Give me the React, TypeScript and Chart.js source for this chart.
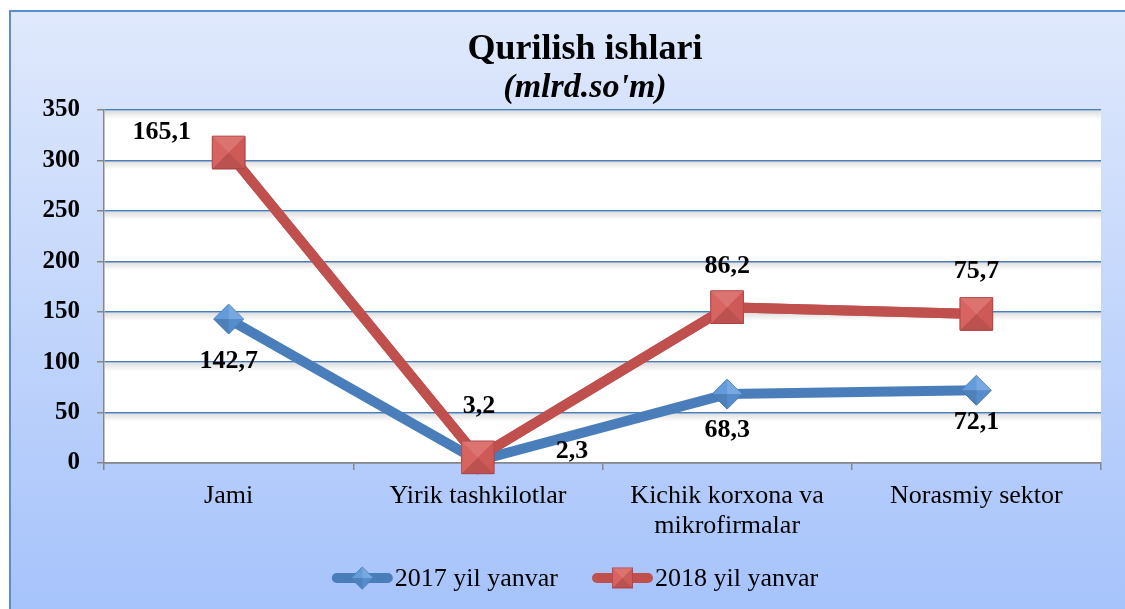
import React, { useEffect, useRef } from 'react';
import { Chart, registerables } from 'chart.js';

Chart.register(...registerables);

const categories: (string | string[])[] = ['Jami', 'Yirik tashkilotlar', ['Kichik korxona va', 'mikrofirmalar'], 'Norasmiy sektor'];
const series2017 = [142.7, 2.3, 68.3, 72.1];
const series2018 = [165.1, 3.2, 86.2, 75.7];
const seriesNames = ['2017 yil yanvar', '2018 yil yanvar'];
const titleText = 'Qurilish ishlari';
const subtitleText = "(mlrd.so'm)";
const yMin = 0;
const yMax = 350;
const yStep = 50;

// label offsets (style), relative to each point
const labelOffsets = [
  [[0, 42], [94, -9], [0, 36], [0, 32]],
  [[-67, -20], [1, -51], [0, -41], [0, -43]],
];

const FONT = "'Liberation Serif', 'Times New Roman', serif";
const BLUE = '#4a7ebb';
const BLUE_FILL = '#5b95d8';
const RED = '#c0504d';
const RED_FILL = '#d65e5a';

const fmt = (v: number) => v.toFixed(1).replace('.', ',');

function bevel(ctx: CanvasRenderingContext2D, kind: string, x: number, y: number, r: number) {
  // four facets meeting at the centre
  let pts: number[][];
  if (kind === 'diamond') {
    pts = [[x, y - r], [x + r, y], [x, y + r], [x - r, y]];
  } else {
    pts = [[x - r, y - r], [x + r, y - r], [x + r, y + r], [x - r, y + r]];
  }
  const shades =
    kind === 'diamond'
      ? ['rgba(255,255,255,0.18)', 'rgba(0,0,0,0.06)', 'rgba(0,0,0,0.14)', 'rgba(255,255,255,0.06)']
      : ['rgba(255,255,255,0.14)', 'rgba(0,0,0,0.04)', 'rgba(0,0,0,0.12)', 'rgba(255,255,255,0.04)'];
  ctx.save();
  for (let i = 0; i < 4; i++) {
    const a = pts[i];
    const b = pts[(i + 1) % 4];
    ctx.beginPath();
    ctx.moveTo(x, y);
    ctx.lineTo(a[0], a[1]);
    ctx.lineTo(b[0], b[1]);
    ctx.closePath();
    ctx.fillStyle = shades[i];
    ctx.fill();
  }
  ctx.restore();
}

function drawMarker(ctx: CanvasRenderingContext2D, kind: string, x: number, y: number, r: number) {
  ctx.save();
  if (kind === 'diamond') {
    ctx.beginPath();
    ctx.moveTo(x - r, y);
    ctx.lineTo(x, y - r);
    ctx.lineTo(x + r, y);
    ctx.lineTo(x, y + r);
    ctx.closePath();
    ctx.fillStyle = BLUE_FILL;
    ctx.fill();
    ctx.strokeStyle = BLUE;
    ctx.lineWidth = 1;
    ctx.stroke();
  } else {
    ctx.fillStyle = RED_FILL;
    ctx.fillRect(x - r, y - r, 2 * r, 2 * r);
    ctx.strokeStyle = '#b8474a';
    ctx.lineWidth = 1;
    ctx.strokeRect(x - r, y - r, 2 * r, 2 * r);
  }
  ctx.restore();
  bevel(ctx, kind, x, y, r);
}

const chromePlugin = {
  id: 'chrome',
  beforeDraw(chart: any) {
    const { ctx, width, height, chartArea } = chart;
    ctx.save();
    ctx.fillStyle = '#ffffff';
    ctx.fillRect(0, 0, width, height);
    const g = ctx.createLinearGradient(0, 10, 0, height);
    g.addColorStop(0, '#e0e9fc');
    g.addColorStop(1, '#a6c3fb');
    ctx.fillStyle = g;
    ctx.fillRect(9, 10, width - 9, height - 10);
    ctx.strokeStyle = '#5b8bd0';
    ctx.lineWidth = 2;
    ctx.beginPath();
    ctx.moveTo(10, height);
    ctx.lineTo(10, 11);
    ctx.lineTo(width, 11);
    ctx.stroke();
    // plot area
    ctx.fillStyle = '#ffffff';
    ctx.fillRect(chartArea.left, chartArea.top, chartArea.right - chartArea.left, chartArea.bottom - chartArea.top);
    // titles
    ctx.fillStyle = '#000000';
    ctx.textAlign = 'center';
    ctx.textBaseline = 'alphabetic';
    ctx.font = `bold 36px ${FONT}`;
    ctx.fillText(titleText, 585, 59);
    ctx.font = `italic bold 34px ${FONT}`;
    ctx.fillText(subtitleText, 585, 97);
    ctx.restore();
  },
  beforeDatasetsDraw(chart: any) {
    const { ctx, chartArea, scales } = chart;
    const y = scales.y;
    ctx.save();
    for (let v = yMin + yStep; v <= yMax; v += yStep) {
      const py = y.getPixelForValue(v);
      const g = ctx.createLinearGradient(0, py + 1, 0, py + 9);
      g.addColorStop(0, 'rgba(0,0,0,0.13)');
      g.addColorStop(1, 'rgba(0,0,0,0)');
      ctx.fillStyle = g;
      ctx.fillRect(chartArea.left + 1, py + 1, chartArea.right - chartArea.left - 1, 8);
    }
    ctx.restore();
  },
  afterDatasetsDraw(chart: any) {
    const { ctx } = chart;
    // bevel on the first series' markers, then series 2 drawn on top, as in the original
    const m0 = chart.getDatasetMeta(0);
    m0.data.forEach((p: any) => bevel(ctx, 'diamond', p.x, p.y, 15));
    chart.getDatasetMeta(1).controller.draw();
    const m1 = chart.getDatasetMeta(1);
    m1.data.forEach((p: any) => bevel(ctx, 'square', p.x, p.y, 23 * Math.SQRT1_2));
    ctx.save();
    ctx.font = `bold 26px ${FONT}`;
    ctx.fillStyle = '#000000';
    ctx.textAlign = 'center';
    ctx.textBaseline = 'middle';
    [series2017, series2018].forEach((vals, di) => {
      const meta = chart.getDatasetMeta(di);
      vals.forEach((v, i) => {
        const pt = meta.data[i];
        const [dx, dy] = labelOffsets[di][i];
        ctx.fillText(fmt(v), pt.x + dx, pt.y + dy);
      });
    });
    ctx.restore();
  },
  afterDraw(chart: any) {
    const { ctx } = chart;
    ctx.save();
    ctx.font = `26px ${FONT}`;
    ctx.textBaseline = 'middle';
    ctx.textAlign = 'left';
    const lineLen = 61;
    const gapText = 2;
    const gapItems = 34;
    const w0 = ctx.measureText(seriesNames[0]).width;
    const w1 = ctx.measureText(seriesNames[1]).width;
    const total = lineLen + gapText + w0 + gapItems + lineLen + gapText + w1;
    let x = 575 - total / 2;
    const y = 578;
    const items = [
      { color: BLUE, kind: 'diamond', r: 11, name: seriesNames[0], w: w0 },
      { color: RED, kind: 'square', r: 10, name: seriesNames[1], w: w1 },
    ];
    items.forEach((it) => {
      ctx.strokeStyle = it.color;
      ctx.lineWidth = 10;
      ctx.lineCap = 'round';
      ctx.beginPath();
      ctx.moveTo(x + 5, y);
      ctx.lineTo(x + lineLen - 5, y);
      ctx.stroke();
      drawMarker(ctx, it.kind, x + lineLen / 2, y, it.r);
      ctx.fillStyle = '#000000';
      ctx.fillText(it.name, x + lineLen + gapText, y + 1);
      x += lineLen + gapText + it.w + gapItems;
    });
    ctx.restore();
  },
};

export default function App() {
  const ref = useRef<HTMLCanvasElement | null>(null);
  useEffect(() => {
    if (!ref.current) return;
    const chart = new Chart(ref.current, {
      type: 'line',
      data: {
        labels: categories as any,
        datasets: [
          {
            label: seriesNames[0],
            data: series2017,
            borderColor: BLUE,
            backgroundColor: BLUE_FILL,
            borderWidth: 10,
            borderCapStyle: 'round',
            borderJoinStyle: 'round',
            pointStyle: 'rectRot',
            pointRadius: 15,
            pointHoverRadius: 15,
            pointBackgroundColor: BLUE_FILL,
            pointBorderColor: BLUE,
            pointBorderWidth: 1,
            tension: 0,
          },
          {
            label: seriesNames[1],
            data: series2018,
            borderColor: RED,
            backgroundColor: RED_FILL,
            borderWidth: 10,
            borderCapStyle: 'round',
            borderJoinStyle: 'round',
            pointStyle: 'rect',
            pointRadius: 23,
            pointHoverRadius: 23,
            pointBackgroundColor: RED_FILL,
            pointBorderColor: '#b8474a',
            pointBorderWidth: 1,
            tension: 0,
          },
        ],
      },
      options: {
        responsive: false,
        animation: false,
        events: [],
        layout: { padding: { left: 0, top: 110, right: 20, bottom: 0 } },
        plugins: {
          legend: { display: false },
          title: { display: false },
          tooltip: { enabled: false },
        },
        scales: {
          x: {
            offset: true,
            grid: {
              offset: true,
              drawOnChartArea: false,
              tickLength: 7,
              tickColor: '#868686',
              lineWidth: 1.5,
            },
            border: { color: '#868686', width: 1.5 },
            ticks: {
              color: '#000000',
              font: { family: FONT, size: 26, lineHeight: 1.15 },
              padding: 11,
              maxRotation: 0,
              autoSkip: false,
            },
            afterFit(scale: any) {
              scale.height = 146;
            },
          },
          y: {
            stacked: true,
            min: yMin,
            max: yMax,
            grid: {
              color: (c: any) => (c.tick && c.tick.value === 0 ? '#868686' : BLUE),
              lineWidth: 1.5,
              tickLength: 7,
              tickColor: '#868686',
            },
            border: { color: '#868686', width: 1.5 },
            ticks: {
              stepSize: yStep,
              color: '#000000',
              font: { family: FONT, size: 25, weight: 'bold' },
              padding: 17,
            },
            afterFit(scale: any) {
              scale.width = 104;
            },
          },
        },
      },
      plugins: [chromePlugin],
    });
    return () => chart.destroy();
  }, []);
  return (
    <div style={{ position: 'absolute', left: 0, top: 0, width: 1125, height: 609 }}>
      <canvas ref={ref} width={1125} height={609} />
    </div>
  );
}
